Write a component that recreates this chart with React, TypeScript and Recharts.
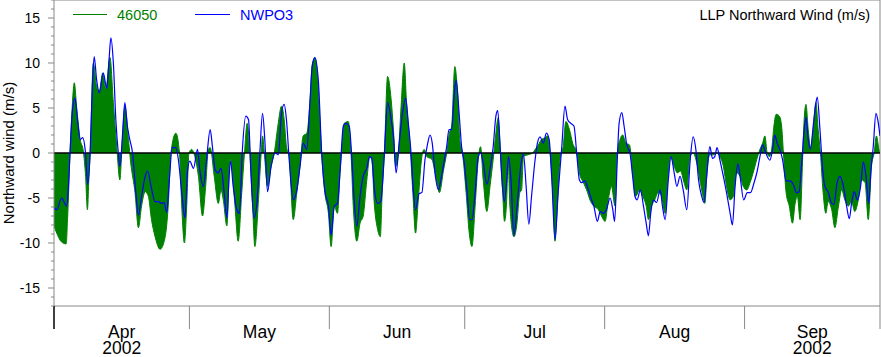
import { ComposedChart, Area, Line, XAxis, YAxis, ReferenceLine, Legend } from 'recharts'

// days since 2002-04-01, northward wind in m/s
const OBS_46050: [number, number][] = [
  [0, -8.1], [0.6, -8.9], [1.7, -9.9], [2.7, -10.1], [3.0, -7.4], [3.55, 0], [4.0, 4.8], [4.5, 7.8], [5.0, 5.2], [5.8, 1.5],
  [6.5, 0.2], [7.0, -2.6], [7.4, -6.3], [7.75, -2.6], [8.05, 0.4], [8.7, 10.0], [9.45, 7.4], [10.05, 6.9], [10.8, 8.9], [11.5, 7.2],
  [12.4, 10.6], [13.15, 5.6], [13.9, 0.7], [14.6, -3.0], [15.0, 0], [15.7, 5.2], [16.5, 1.5], [17.0, -1.1], [17.95, -4.4], [18.7, -8.3],
  [19.4, -5.9], [20.2, -4.3], [20.9, -4.8], [21.6, -7.4], [22.4, -9.3], [23.5, -10.7], [24.6, -9.4], [25.3, -5.9], [25.9, 0], [27.0, 2.2],
  [27.8, 0], [28.3, -5.9], [28.9, -10.0], [29.4, -5.9], [29.9, 0], [30.5, 0.4], [31.2, -0.4], [32.0, -2.6], [32.9, -7.0], [33.6, -3.7],
  [34.2, 0.4], [34.6, 0.6], [35.5, -2.6], [36.4, -5.6], [37.0, -4.1], [37.5, -5.2], [38.3, -8.1], [39.0, -0.7], [39.4, -1.5], [40.1, -5.9],
  [40.8, -9.8], [41.6, -4.4], [42.2, 0], [42.8, 3.3], [43.4, 0], [44.0, -5.9], [44.5, -10.4], [45.3, -5.2], [45.9, 0], [46.2, 1.9],
  [46.7, -0.7], [47.3, -3.7], [48.1, -1.5], [48.8, 0], [49.6, 3.0], [50.4, 5.2], [51.0, 3.7], [51.5, 0.7], [52.1, -0.4], [53.0, -7.4],
  [53.8, -4.4], [54.5, -1.5], [55.2, 1.9], [56.0, 2.2], [56.7, 5.6], [57.2, 9.8], [57.8, 10.6], [58.4, 8.5], [58.9, 3.7], [59.3, 0],
  [60.0, -4.4], [60.8, -6.7], [61.4, -10.4], [62.1, -5.9], [62.8, -6.7], [63.4, -1.9], [63.7, 0], [64.3, 3.3], [65.2, 3.5], [65.8, 0],
  [66.3, -5.9], [67.1, -9.8], [67.8, -7.8], [68.5, -7.0], [69.3, -3.0], [70.0, -0.4], [70.4, -0.7], [71.0, -5.9], [71.7, -8.5], [72.3, -9.3],
  [72.7, -4.4], [73.2, 0], [73.9, 8.5], [74.7, 5.9], [75.2, 2.6], [75.7, -1.5], [76.3, 0], [76.9, 5.2], [77.6, 10.0], [78.1, 5.6],
  [78.9, 0.7], [79.5, -4.4], [80.1, -8.9], [80.7, -5.2], [81.5, -0.4], [82.0, 0.4], [82.6, -0.4], [83.7, -0.7], [84.6, -2.6], [85.4, -4.4],
  [86.3, -1.9], [87.0, 0], [87.6, 2.2], [88.1, 3.0], [88.8, 9.6], [89.4, 6.7], [89.9, 1.5], [90.5, 0], [91.3, -4.4], [92.0, -8.9],
  [92.6, -10.4], [93.3, -5.9], [94.0, -0.7], [94.5, 0.7], [95.1, -3.0], [95.9, -6.5], [96.6, -3.7], [97.3, -0.7], [97.9, 2.2], [98.4, 3.9],
  [98.9, 0], [99.4, -4.4], [99.8, -7.6], [100.3, -5.2], [100.6, -0.7], [101.0, -5.9], [101.9, -9.3], [102.5, -8.1], [103.2, -4.4], [103.6, -4.1],
  [104.0, -0.4], [105.0, -0.2], [106.0, 0], [106.6, 0.4], [107.3, 0.9], [108.0, 1.5], [108.8, 1.7], [109.3, 1.9], [109.9, 0], [110.5, -4.4],
  [111.0, -9.8], [111.5, -5.9], [112.1, -0.7], [112.8, 0.7], [113.4, 3.5], [114.2, 2.6], [114.9, 1.1], [115.8, 0], [116.4, -2.2], [117.3, -3.3],
  [118.0, -4.1], [118.9, -5.4], [119.6, -5.9], [120.6, -6.3], [121.3, -7.0], [122.1, -7.6], [122.8, -5.2], [123.5, -3.7], [124.3, -5.9], [124.8, 0],
  [125.4, 1.5], [126.0, 2.0], [126.7, 1.1], [127.5, 0.9], [128.2, -2.2], [128.9, -4.8], [129.7, -4.1], [130.4, -4.8], [131.2, -5.9], [131.7, -7.4],
  [132.4, -5.9], [133.1, -5.2], [133.9, -4.4], [134.6, -4.8], [135.4, -6.7], [136.1, -2.2], [136.6, -0.4], [137.4, -1.5], [138.1, -2.2], [138.8, -2.0],
  [139.6, -3.3], [140.2, -4.1], [140.9, -0.4], [141.6, 0], [142.4, -1.1], [143.1, -3.0], [143.7, -4.6], [144.2, -5.6], [144.7, -1.9], [145.3, -0.2],
  [146.1, -0.2], [146.8, 0], [147.5, -0.4], [148.3, -1.5], [149.0, -3.7], [149.8, -5.2], [150.5, -4.8], [151.2, -2.2], [152.0, -2.6], [152.7, -3.7],
  [153.5, -4.1], [154.2, -3.3], [154.9, -2.2], [155.7, -0.7], [156.4, 0.4], [157.0, 1.1], [157.5, 1.9], [158.0, 0], [158.5, -0.4], [159.0, 0.4],
  [159.5, 3.0], [160.0, 4.3], [160.7, 4.1], [161.2, 3.0], [161.6, 0], [162.2, -4.4], [162.9, -5.9], [163.6, -7.8], [164.2, -5.6], [164.7, -4.8],
  [165.3, -7.4], [165.9, 0], [166.2, 3.7], [166.6, 5.4], [167.1, 2.6], [167.6, 0.6], [168.2, 2.6], [168.8, 5.6], [169.3, 2.6], [169.8, 0],
  [170.4, -4.4], [171.0, -6.7], [171.5, -5.4], [172.3, -6.3], [173.0, -8.3], [173.8, -5.9], [174.5, -4.1], [175.2, -5.2], [176.0, -5.9], [176.7, -5.4],
  [177.4, -6.5], [178.2, -5.2], [178.9, -3.0], [179.7, -3.3], [180.4, -7.4], [181.1, -1.5], [181.7, 0], [182.2, 1.9], [182.8, 0.4], [183, 0.2],
]

const NWPO3: [number, number][] = [
  [0, -6.1], [0.6, -6.3], [1.7, -5.0], [2.8, -5.9], [3.2, -3.7], [3.55, 0], [4.1, 4.8], [4.65, 6.1], [5.2, 3.7], [5.8, 1.5],
  [6.35, 1.7], [6.9, 0.4], [7.5, -3.5], [8.0, 0], [8.5, 7.4], [8.9, 10.7], [9.45, 8.1], [10.05, 6.7], [10.9, 8.9], [11.7, 7.2],
  [12.2, 10.4], [12.6, 12.8], [13.15, 10.0], [13.7, 3.7], [14.25, 0], [14.6, -1.5], [15.2, 2.2], [15.7, 5.6], [16.25, 3.0], [16.7, 1.7],
  [17.4, 0], [18.2, -4.8], [18.7, -6.9], [19.4, -4.8], [20.2, -2.6], [20.75, -2.0], [21.5, -3.7], [22.4, -5.4], [23.1, -5.4], [23.85, -5.6],
  [24.4, -5.5], [24.96, -6.6], [25.55, -3.0], [26.2, 0.6], [26.96, 0.6], [27.55, -0.7], [28.3, -4.4], [29.0, -7.2], [29.6, -1.9], [30.1, -0.9],
  [30.9, -1.7], [31.8, 0.4], [32.3, -1.9], [33.1, -3.7], [33.8, -0.7], [34.6, 2.6], [35.1, 0.7], [35.7, -1.9], [36.4, -2.2], [37.0, -1.7],
  [37.7, -4.4], [38.3, -7.2], [38.8, -2.6], [39.1, -0.9], [39.7, -3.7], [40.5, -6.3], [41.1, -6.7], [41.7, 0], [42.5, 4.1], [43.1, 3.7],
  [43.6, -1.9], [44.3, -7.2], [44.9, -5.9], [45.6, 0], [46.2, 4.4], [46.7, 1.5], [47.3, -4.3], [48.1, -1.5], [49.0, 0], [49.7, -0.2],
  [50.4, 4.4], [51.0, 5.4], [51.5, 3.7], [52.1, -0.7], [53.0, -5.2], [53.8, -4.1], [54.5, -1.5], [55.2, 1.1], [56.0, 0.4], [56.7, 5.6],
  [57.2, 9.6], [57.8, 10.6], [58.6, 7.8], [59.3, 0], [60.0, -4.2], [60.8, -5.9], [61.4, -9.1], [62.1, -5.9], [62.8, -5.6], [63.4, -1.9],
  [64.1, 3.0], [64.6, 3.3], [65.4, 3.0], [66.0, -0.7], [66.5, -5.2], [67.1, -8.1], [67.8, -4.8], [68.5, -2.6], [69.3, -1.7], [69.9, -0.4],
  [70.4, -0.6], [71.0, -4.1], [71.7, -5.6], [72.4, -5.4], [73.2, 0], [73.9, 5.6], [74.7, 3.7], [75.2, 1.9], [75.8, -2.2], [76.4, 0.7],
  [77.2, 4.4], [77.9, 6.1], [78.5, 3.3], [79.1, 0], [79.6, -4.1], [80.1, -6.3], [80.9, -4.5], [81.5, -4.4], [82.2, -0.7], [82.8, 1.1],
  [83.3, 2.0], [83.8, 1.1], [84.4, -2.2], [85.2, -4.1], [85.7, -3.0], [86.5, -0.7], [87.0, 0.7], [87.5, 2.6], [88.1, 2.6], [88.7, 6.7],
  [89.1, 8.1], [89.7, 4.8], [90.3, 0.7], [90.9, -1.1], [91.5, -4.2], [92.1, -7.4], [92.6, -7.4], [93.3, -4.4], [94.0, -0.4], [94.5, 0],
  [95.1, -1.1], [95.9, -3.5], [96.7, -1.5], [97.3, 0.7], [97.9, 4.1], [98.3, 4.7], [98.8, 1.1], [99.2, -2.6], [99.8, -5.4], [100.3, -3.0],
  [100.7, -0.4], [101.2, -2.6], [101.9, -9.2], [102.6, -5.9], [103.4, -1.5], [104.0, -0.1], [104.6, -3.7], [105.2, -7.9], [105.8, -4.8], [106.6, -0.7],
  [107.1, 1.1], [107.7, 1.8], [108.4, 1.1], [109.1, 2.2], [109.7, 1.5], [110.3, -3.0], [111.0, -9.6], [111.7, -4.4], [112.5, 0.7], [113.2, 5.2],
  [113.8, 3.7], [114.5, 3.3], [115.2, 3.0], [115.8, 0], [116.4, -3.0], [116.9, -3.3], [117.6, -3.1], [118.4, -4.1], [119.1, -5.2], [119.6, -5.9],
  [120.4, -7.6], [121.0, -6.5], [121.7, -6.7], [122.4, -6.3], [123.2, -5.0], [123.8, -6.3], [124.2, -7.6], [124.8, -0.7], [125.2, 3.3], [125.8, 4.5],
  [126.3, 3.0], [126.9, 0.9], [127.6, 0], [128.2, -2.6], [128.7, -4.8], [129.2, -5.2], [129.9, -4.1], [130.6, -5.9], [131.2, -7.8], [131.7, -9.2],
  [132.2, -6.7], [132.8, -5.2], [133.5, -5.5], [134.3, -4.1], [134.8, -5.9], [135.4, -7.4], [136.1, -3.0], [136.7, -0.4], [137.4, -2.2], [138.0, -3.7],
  [138.7, -2.6], [139.4, -4.1], [140.2, -6.3], [140.9, -1.1], [141.6, 1.8], [142.2, 0.4], [142.8, -3.0], [143.5, -4.8], [144.0, -5.5], [144.6, -2.6],
  [145.3, 0.7], [145.9, -0.6], [146.4, -0.4], [146.9, 0.6], [147.5, -0.7], [148.3, -2.6], [149.0, -4.4], [149.8, -6.7], [150.3, -8.0], [150.9, -3.7],
  [151.5, -1.2], [152.0, -2.6], [152.8, -5.2], [153.6, -4.4], [154.3, -4.4], [155.1, -3.3], [155.8, -2.0], [156.4, -0.4], [157.0, 0.9], [157.7, 0],
  [158.6, -0.8], [159.2, 0.4], [159.7, 2.0], [160.2, 1.1], [160.8, 0.4], [161.4, -0.7], [162.2, -3.1], [163.0, -3.1], [163.8, -3.5], [164.5, -4.4],
  [165.1, -4.3], [165.6, -1.5], [166.2, 2.6], [166.6, 4.0], [167.1, 1.5], [167.6, 0.4], [168.2, 3.0], [168.7, 5.2], [169.1, 6.2], [169.7, 2.6],
  [170.3, -1.9], [170.8, -3.7], [171.5, -4.3], [172.3, -5.6], [172.8, -5.7], [173.5, -3.3], [174.1, -2.6], [174.9, -3.7], [175.6, -5.9], [176.2, -7.3],
  [176.7, -5.6], [177.3, -4.3], [178.0, -5.2], [178.7, -3.7], [179.3, -1.0], [179.9, -2.6], [180.5, -5.6], [181.0, -1.9], [181.5, 0.7], [182.1, 4.4],
  [182.5, 3.7], [183.0, 1.9],
]

const MONTH_STARTS = [0, 30, 61, 91, 122, 153, 183]
const MONTH_LABELS = ['Apr', 'May', 'Jun', 'Jul', 'Aug', 'Sep']
const YEAR_LABEL = '2002'
const Y_LABELS = [-15, -10, -5, 0, 5, 10, 15]
const Y_DOMAIN: [number, number] = [-17, 17]

const GREEN = '#008000'
const BLUE = '#0000ff'
const AXIS = '#888'
const FONT = '"Liberation Sans", Arial, Helvetica, sans-serif'

const toRows = (pts: [number, number][]) => pts.map(([day, v]) => ({ day, v }))

const monthMids = MONTH_LABELS.map((_, i) => (MONTH_STARTS[i] + MONTH_STARTS[i + 1]) / 2)
const xTicks = [...MONTH_STARTS, ...monthMids].sort((a, b) => a - b)
const yTicks: number[] = []
for (let v = Y_DOMAIN[0]; v <= Y_DOMAIN[1]; v++) yTicks.push(v)

function XTick({ x, y, payload }: any) {
  const v = payload.value
  const bi = MONTH_STARTS.indexOf(v)
  if (bi >= 0) {
    return <line x1={x} x2={x} y1={y} y2={y + 23} stroke={bi === 0 ? '#000' : AXIS} strokeWidth={bi === 0 ? 1.5 : 1} />
  }
  const mi = monthMids.indexOf(v)
  const withYear = mi === 0 || mi === MONTH_LABELS.length - 1
  return (
    <g>
      <text x={x} y={y + 32} textAnchor="middle" fontSize={17.5} fill="#000" fontFamily={FONT}>
        {MONTH_LABELS[mi]}
      </text>
      {withYear && (
        <text x={x} y={y + 48} textAnchor="middle" fontSize={17.5} fill="#000" fontFamily={FONT}>
          {YEAR_LABEL}
        </text>
      )}
    </g>
  )
}

function YTick({ x, y, payload }: any) {
  const v = payload.value
  const major = Y_LABELS.includes(v)
  return (
    <g>
      <line x1={x - (major ? 6 : 3)} x2={x} y1={y} y2={y} stroke={AXIS} />
      {major && (
        <text x={x - 14} y={y} dy={5} textAnchor="end" fontSize={14} fill="#000" fontFamily={FONT}>
          {v}
        </text>
      )}
    </g>
  )
}

function YLabel({ viewBox }: any) {
  const cx = viewBox.x + 8
  const cy = viewBox.y + viewBox.height / 2
  return (
    <text x={cx} y={cy} transform={`rotate(-90, ${cx}, ${cy})`} textAnchor="middle" dominantBaseline="central" fontSize={15} fill="#000" fontFamily={FONT}>
      Northward wind (m/s)
    </text>
  )
}

function LegendBar() {
  return (
    <svg width={881} height={30} style={{ display: 'block' }}>
      <line x1={73} x2={107} y1={14.5} y2={14.5} stroke={GREEN} />
      <text x={117} y={20} fontSize={14.5} fill={GREEN} fontFamily={FONT}>46050</text>
      <line x1={195} x2={230} y1={14.5} y2={14.5} stroke={BLUE} />
      <text x={240} y={20} fontSize={14.5} fill={BLUE} fontFamily={FONT}>NWPO3</text>
      <text x={870} y={20} textAnchor="end" fontSize={14.5} fill="#000" fontFamily={FONT}>LLP Northward Wind (m/s)</text>
    </svg>
  )
}

export default function App() {
  return (
    <div style={{ position: 'absolute', left: 0, top: 0, background: '#fff', fontFamily: FONT }}>
      <ComposedChart width={881} height={357} margin={{ top: 0, right: 1, bottom: 0, left: 0 }}>
        <XAxis
          dataKey="day"
          type="number"
          domain={[MONTH_STARTS[0], MONTH_STARTS[MONTH_STARTS.length - 1]]}
          allowDataOverflow
          ticks={xTicks}
          interval={0}
          tick={<XTick />}
          tickLine={false}
          tickSize={0}
          tickMargin={0}
          height={51}
          axisLine={{ stroke: AXIS }}
        />
        <YAxis
          type="number"
          domain={Y_DOMAIN}
          allowDataOverflow
          ticks={yTicks}
          interval={0}
          tick={<YTick />}
          tickLine={false}
          tickSize={0}
          tickMargin={0}
          width={54}
          axisLine={{ stroke: AXIS }}
          label={<YLabel />}
        />
        <ReferenceLine y={Y_DOMAIN[1]} stroke={AXIS} />
        <ReferenceLine x={MONTH_STARTS[MONTH_STARTS.length - 1]} stroke={AXIS} />
        <Area
          data={toRows(OBS_46050)}
          dataKey="v"
          name="46050"
          type="monotone"
          baseValue={0}
          stroke={GREEN}
          strokeWidth={1}
          fill={GREEN}
          fillOpacity={1}
          dot={false}
          activeDot={false}
          isAnimationActive={false}
        />
        <ReferenceLine y={0} stroke="#000" strokeWidth={1.5} />
        <Line
          data={toRows(NWPO3)}
          dataKey="v"
          name="NWPO3"
          type="monotone"
          stroke={BLUE}
          strokeWidth={1.2}
          dot={false}
          activeDot={false}
          isAnimationActive={false}
        />
        <Legend
          layout="horizontal"
          verticalAlign="middle"
          align="center"
          wrapperStyle={{ top: 0, left: 0, width: 881, height: 30 }}
          content={() => <LegendBar />}
        />
      </ComposedChart>
    </div>
  )
}
